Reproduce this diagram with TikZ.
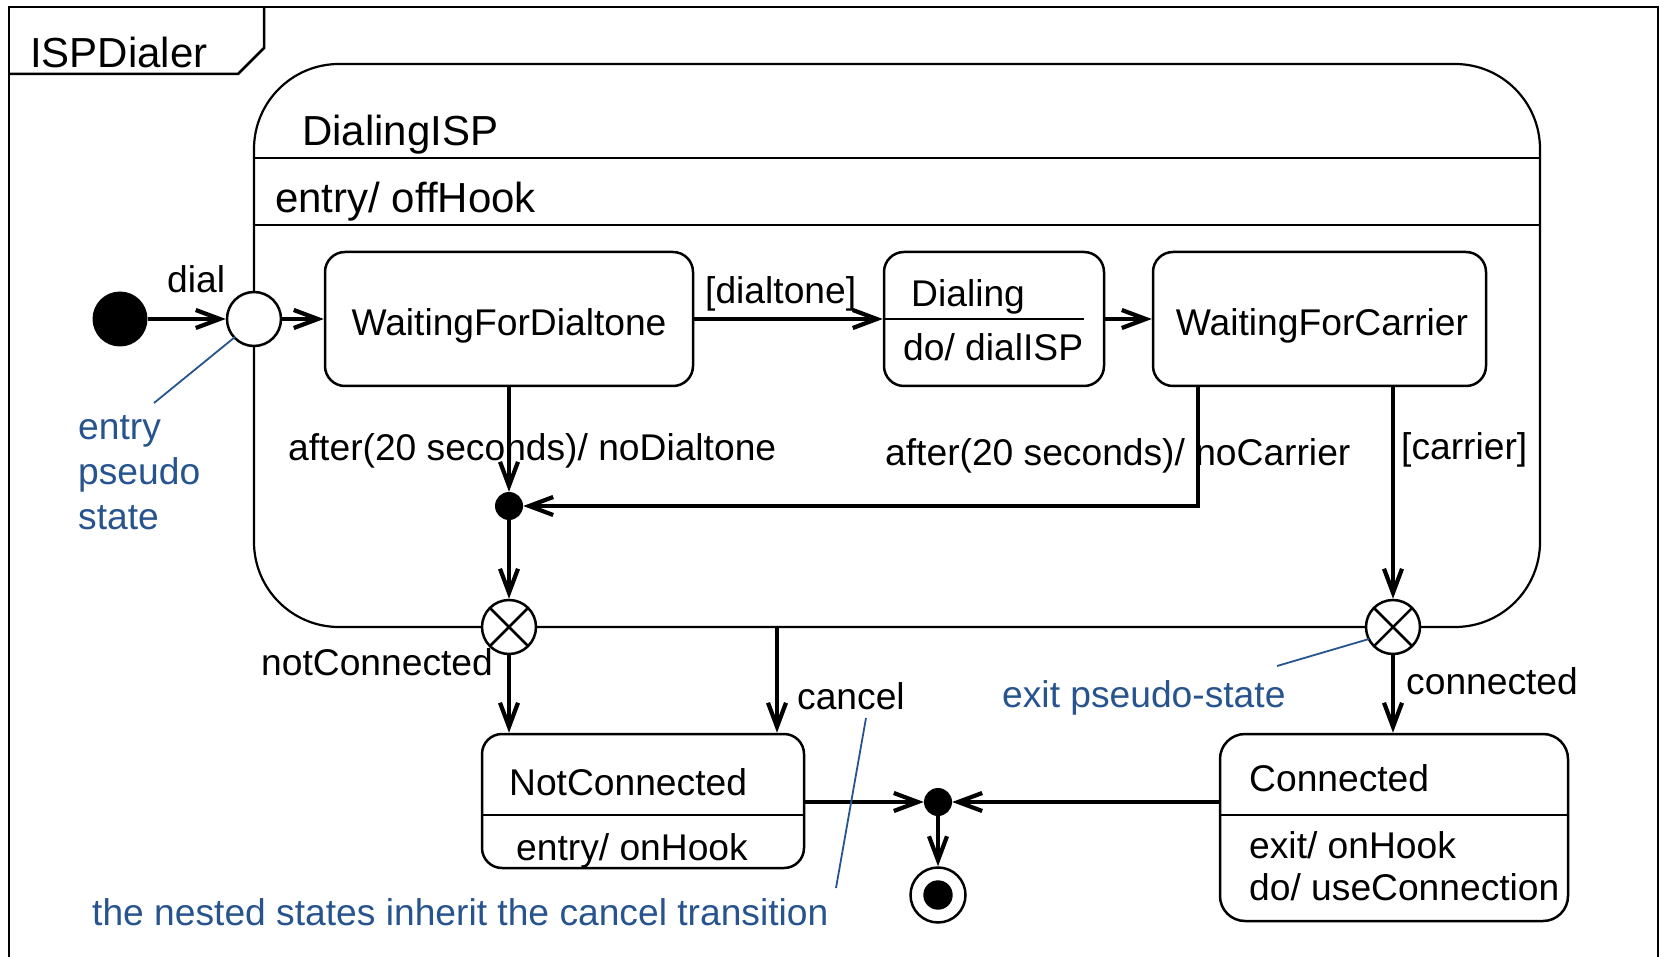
\documentclass[tikz,border=0pt]{standalone}
\usepackage{fontspec}
\setmainfont{Liberation Sans}
\usetikzlibrary{arrows.meta}
\definecolor{note}{HTML}{27548F}
\newcommand\fsA{\fontsize{37.2}{44}\selectfont}
\newcommand\fsB{\fontsize{42}{50}\selectfont}
\begin{document}
\begin{tikzpicture}[x=1pt,y=-1pt,
  box/.style={draw, line width=2.5pt, rounded corners=20pt, inner sep=0pt},
  tr/.style={line width=4.2pt, -{Straight Barb[length=24pt,width=18pt]}},
  txt/.style={inner sep=0pt, font=\fsA, yshift=-2.5pt},
  big/.style={inner sep=0pt, font=\fsB, yshift=-2.5pt},
  notetxt/.style={inner sep=0pt, font=\fsA, text=note, yshift=-2.5pt},
  noteline/.style={draw=note, line width=1.8pt},
  pseudo/.style={circle, draw, line width=2.5pt, inner sep=0pt, minimum size=54pt, fill=white},
  exitpt/.style={pseudo, path picture={\draw[line width=2.5pt]
      (path picture bounding box.north west) -- (path picture bounding box.south east)
      (path picture bounding box.north east) -- (path picture bounding box.south west);}},
  dot/.style={circle, fill=black, inner sep=0pt, minimum size=28pt},
]
\useasboundingbox (0,0) rectangle (1660,957);
\fill[white] (0,0) rectangle (1660,957);

% frame
\draw[line width=2.5pt] (9,960) -- (9,7) -- (1658,7) -- (1658,960);
\draw[line width=2.5pt] (9,74) -- (238,74) -- (264,48) -- (264,7);
\node[big, anchor=base west] (title) at (30,65) {ISPDialer};

% composite state
\node[box, rounded corners=85pt, line width=2.2pt, minimum width=1286pt, minimum height=563pt] (disp) at (897,345.5) {};
\coordinate (h1) at (0,158);
\coordinate (h2) at (0,225);
\draw[line width=2.2pt] (disp.west |- h1) -- (disp.east |- h1);
\draw[line width=2.2pt] (disp.west |- h2) -- (disp.east |- h2);
\node[big, anchor=base west] (dispname) at (302,143) {DialingISP};
\node[big, anchor=base west] (dispentry) at (275,210) {entry/ offHook};

% states
\node[dot, minimum size=55pt] (init) at (120,319) {};
\node[pseudo] (entry) at (254,319) {};
\node[box, minimum width=368pt, minimum height=134pt] (wfd) at (509,319) {};
\node[txt, anchor=base] (wfdname) at (509,333) {WaitingForDialtone};
\node[box, minimum width=220pt, minimum height=134pt] (dialing) at (994,319) {};
\draw[line width=2.5pt] (dialing.west) -- ++(201,0);
\node[txt, anchor=base west] (dialingname) at (911,304) {Dialing};
\node[txt, anchor=base west] (dialingdo) at (903,358) {do/ dialISP};
\node[box, minimum width=333pt, minimum height=134pt] (wfc) at (1319.5,319) {};
\node[txt, anchor=base] (wfcname) at (1322,333) {WaitingForCarrier};
\node[dot] (jn) at (509,506) {};
\node[exitpt] (ex1) at (509,627) {};
\node[exitpt] (ex2) at (1393,627) {};

\node[box, minimum width=322pt, minimum height=134pt] (nc) at (643,801) {};
\coordinate (s1) at (0,815);
\draw[line width=2.5pt] (nc.west |- s1) -- (nc.east |- s1);
\node[txt, anchor=base west] (ncname) at (509,793) {NotConnected};
\node[txt, anchor=base west] (ncentry) at (516,858) {entry/ onHook};

\node[box, rounded corners=25pt, minimum width=348pt, minimum height=187pt] (conn) at (1394,827.5) {};
\draw[line width=2.5pt] (conn.west |- s1) -- (conn.east |- s1);
\node[txt, anchor=base west] (connname) at (1249,789) {Connected};
\node[txt, anchor=base west] (connexit) at (1249,856) {exit/ onHook};
\node[txt, anchor=base west] (conndo) at (1249,898) {do/ useConnection};

\node[dot] (mg) at (938,802) {};
\node[circle, draw, line width=2.5pt, minimum size=55pt, inner sep=0pt,
  path picture={\fill (path picture bounding box.center) circle (14.7pt);}] (fin) at (938,895) {};

% transitions
\draw[tr] (init) -- (entry);
\draw[tr] (entry) -- (wfd);
\draw[tr] (wfd) -- (dialing);
\draw[tr] (dialing) -- (wfc);
\draw[tr] (wfd) -- (jn);
\draw[tr] ([xshift=46pt]wfc.south west) |- (jn);
\draw[tr] (ex2 |- wfc.south) -- (ex2);
\draw[tr] (jn) -- (ex1);
\draw[tr] (ex1) -- (ex1 |- nc.north);
\coordinate (cx) at (777,0);
\draw[tr] (disp.south -| cx) -- (nc.north -| cx);
\draw[tr] (ex2) -- (ex2 |- conn.north);
\draw[tr] (nc.east |- mg) -- (mg);
\draw[tr] (conn.west |- mg) -- (mg);
\draw[tr] (mg) -- (fin);

% labels
\node[txt, anchor=base west] (ldial) at (167,290) {dial};
\node[txt, anchor=base west] (ldialtone) at (705,301) {[dialtone]};
\node[txt, anchor=base west] (lnodt) at (288,458) {after(20 seconds)/ noDialtone};
\node[txt, anchor=base west] (lnocar) at (885,463) {after(20 seconds)/ noCarrier};
\node[txt, anchor=base west] (lcarrier) at (1401,457) {[carrier]};
\node[txt, anchor=base west] (lnotc) at (261,673) {notConnected};
\node[txt, anchor=base west] (lcancel) at (797,707) {cancel};
\node[txt, anchor=base west] (lconn) at (1406,692) {connected};

% notes
\node[notetxt, anchor=base west] (n1a) at (78,437) {entry};
\node[notetxt, anchor=base west] (n1b) at (78,482) {pseudo};
\node[notetxt, anchor=base west] (n1c) at (78,527) {state};
\coordinate (n1s) at (154,403);
\coordinate (n1e) at (235,337);
\draw[noteline] (n1s) -- (n1e);
\node[notetxt, anchor=base west] (n2) at (1002,705) {exit pseudo-state};
\coordinate (n2s) at (1277,666);
\coordinate (n2e) at (1369,639);
\draw[noteline] (n2s) -- (n2e);
\node[notetxt, anchor=base west] (n3) at (92,923) {the nested states inherit the cancel transition};
\coordinate (n3s) at (836,888);
\coordinate (n3e) at (866,718);
\draw[noteline] (n3s) -- (n3e);
\end{tikzpicture}
\end{document}
